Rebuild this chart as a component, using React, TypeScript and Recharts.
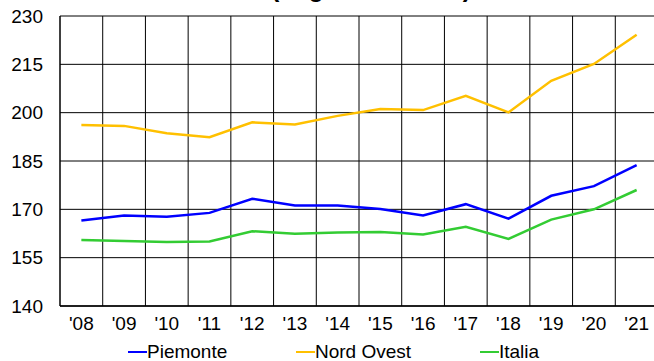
import { LineChart, Line, XAxis, YAxis, CartesianGrid, ReferenceLine } from "recharts";

const years = ["'08", "'09", "'10", "'11", "'12", "'13", "'14", "'15", "'16", "'17", "'18", "'19", "'20", "'21"];
const piemonte = [166.5, 168.1, 167.7, 168.9, 173.3, 171.2, 171.2, 170.1, 168.1, 171.6, 167.1, 174.2, 177.2, 183.7];
const nordOvest = [196.2, 195.9, 193.6, 192.4, 197.0, 196.3, 199.0, 201.1, 200.8, 205.2, 200.1, 209.9, 215.1, 224.2];
const italia = [160.5, 160.2, 159.9, 160.0, 163.2, 162.4, 162.8, 163.0, 162.2, 164.6, 160.8, 166.8, 170.0, 176.0];
const yTicks = [140, 155, 170, 185, 200, 215, 230];

const series = [
  { key: "piemonte", name: "Piemonte", color: "#0000ff" },
  { key: "nordOvest", name: "Nord Ovest", color: "#ffc000" },
  { key: "italia", name: "Italia", color: "#33cc33" },
];

// each year sits in the middle of its band, band edges carry the vertical grid
const data = years.map((y, i) => ({
  pos: i + 0.5,
  year: y,
  piemonte: piemonte[i],
  nordOvest: nordOvest[i],
  italia: italia[i],
}));
const bandEdges = years.slice(1).map((_, i) => i + 1);
const legendLeft = [128, 296, 480];

const font = "'Liberation Sans', Arial, sans-serif";

export default function App() {
  return (
    <div style={{ position: "fixed", left: 0, top: 0, width: 654, height: 361, overflow: "hidden", fontFamily: font, background: "#fff" }}>
      <LineChart width={670} height={361} data={data} margin={{ top: 16, right: 12, bottom: 25, left: 0 }}>
        <CartesianGrid vertical={false} stroke="#000" strokeDasharray="" />
        {bandEdges.map((x) => (
          <ReferenceLine key={x} x={x} stroke="#000" strokeWidth={1} />
        ))}
        <XAxis
          type="number"
          dataKey="pos"
          domain={[0, 14]}
          ticks={data.map((d) => d.pos)}
          tickFormatter={(v: number) => years[Math.floor(v)]}
          interval={0}
          allowDataOverflow
          height={30}
          tickSize={0}
          tickMargin={11}
          axisLine={{ stroke: "#000", strokeWidth: 1.5 }}
          tick={{ fill: "#000", fontSize: 19, fontFamily: font }}
        />
        <YAxis
          type="number"
          domain={[140, 230]}
          ticks={yTicks}
          interval={0}
          width={60}
          tickSize={0}
          tickMargin={17}
          axisLine={{ stroke: "#000", strokeWidth: 1.5 }}
          tick={{ fill: "#000", fontSize: 19, fontFamily: font }}
        />
        {series.map((s) => (
          <Line
            key={s.key}
            type="linear"
            dataKey={s.key}
            name={s.name}
            stroke={s.color}
            strokeWidth={2.5}
            dot={false}
            isAnimationActive={false}
          />
        ))}
      </LineChart>
      {/* title sits mostly above the top edge, only its lower part shows */}
      <svg width={654} height={20} style={{ position: "absolute", left: 0, top: 0, zIndex: 2 }}>
        <text x={371} y={-3} textAnchor="middle" fontSize={25} fontWeight="bold" fontFamily={font} fill="#000">
          (migliaia di euro)
        </text>
      </svg>
      <div style={{ position: "absolute", left: 0, top: 341, width: 654, height: 20, fontSize: 19, color: "#000", zIndex: 2 }}>
        {series.map((s, i) => (
          <span
            key={s.key}
            style={{ position: "absolute", left: legendLeft[i], top: 0, display: "flex", alignItems: "center", whiteSpace: "nowrap", lineHeight: "22px" }}
          >
            <span style={{ display: "inline-block", width: 19, height: 2.5, background: s.color }} />
            <span>{s.name}</span>
          </span>
        ))}
      </div>
    </div>
  );
}
